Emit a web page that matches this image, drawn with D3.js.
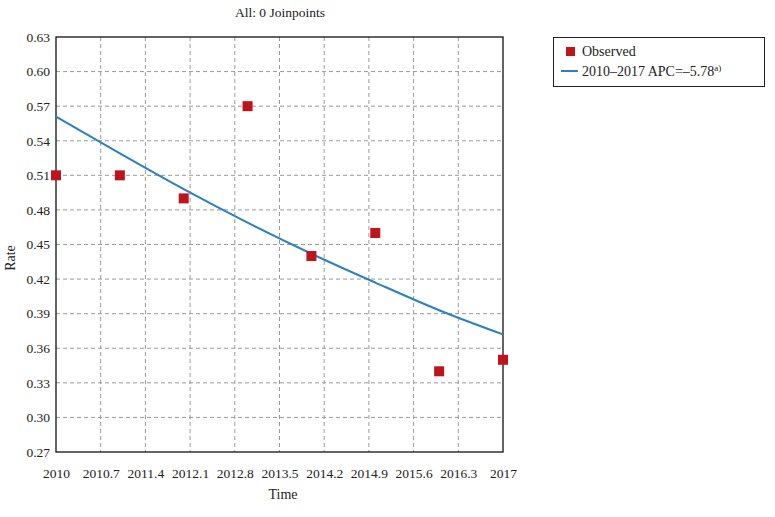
<!DOCTYPE html>
<html><head><meta charset="utf-8">
<script src="https://cdn.jsdelivr.net/npm/d3@7"></script>
<style>body{margin:0;background:#fff}svg{display:block}text{font-family:"Liberation Serif","DejaVu Serif",serif;fill:#222}</style>
</head><body>
<script>
const years = [2010, 2011, 2012, 2013, 2014, 2015, 2016, 2017];
const observed = [0.51, 0.51, 0.49, 0.57, 0.44, 0.46, 0.34, 0.35];
const fitted = [0.561, 0.529, 0.498, 0.469, 0.442, 0.417, 0.393, 0.372];
const xTicks = [2010, 2010.7, 2011.4, 2012.1, 2012.8, 2013.5, 2014.2, 2014.9, 2015.6, 2016.3, 2017];
const yTicks = [0.27, 0.30, 0.33, 0.36, 0.39, 0.42, 0.45, 0.48, 0.51, 0.54, 0.57, 0.60, 0.63];

const W = 775, H = 517;
const m = {left: 56, right: 503, top: 37, bottom: 452};
const svg = d3.select("body").append("svg").attr("width", W).attr("height", H);
const x = d3.scaleLinear().domain([2010, 2017]).range([m.left, m.right]);
const y = d3.scaleLinear().domain([0.27, 0.63]).range([m.bottom, m.top]);

// grid
svg.append("g").selectAll("line").data(xTicks.slice(1, -1)).join("line")
  .attr("x1", d => x(d)).attr("x2", d => x(d)).attr("y1", m.top).attr("y2", m.bottom)
  .attr("stroke", "#9a9a9a").attr("stroke-dasharray", "4,3").attr("stroke-width", 1);
svg.append("g").selectAll("line").data(yTicks.slice(1, -1)).join("line")
  .attr("y1", d => y(d)).attr("y2", d => y(d)).attr("x1", m.left).attr("x2", m.right)
  .attr("stroke", "#9a9a9a").attr("stroke-dasharray", "4,3").attr("stroke-width", 1);

// axes
const xAxis = svg.append("g").attr("transform", `translate(0,${m.bottom})`)
  .call(d3.axisBottom(x).tickValues(xTicks).tickSize(0).tickPadding(16).tickFormat(d => d3.format("")(+d.toFixed(1))));
const yAxis = svg.append("g").attr("transform", `translate(${m.left},0)`)
  .call(d3.axisLeft(y).tickValues(yTicks).tickSize(0).tickPadding(6).tickFormat(d3.format(".2f")));
[xAxis, yAxis].forEach(g => { g.select(".domain").remove(); g.selectAll("text").style("font-size", "13.5px").style("font-family", '"Liberation Serif",serif').attr("fill", "#222"); });

// frame
svg.append("rect").attr("x", m.left).attr("y", m.top).attr("width", m.right - m.left).attr("height", m.bottom - m.top)
  .attr("fill", "none").attr("stroke", "#111").attr("stroke-width", 1.3);

// fitted line
const pts = years.map((yr, i) => [yr, fitted[i]]);
svg.append("path").datum(pts)
  .attr("d", d3.line().x(d => x(d[0])).y(d => y(d[1])).curve(d3.curveMonotoneX))
  .attr("fill", "none").attr("stroke", "#2b7fc6").attr("stroke-width", 2);

// observed
const s = 10;
svg.append("g").selectAll("rect").data(years.map((yr, i) => [yr, observed[i]])).join("rect")
  .attr("x", d => x(d[0]) - s / 2).attr("y", d => y(d[1]) - s / 2).attr("width", s).attr("height", s)
  .attr("fill", "#c0141c");

// titles
svg.append("text").attr("x", 280).attr("y", 17).attr("text-anchor", "middle").style("font-size", "13.5px").text("All: 0 Joinpoints");
svg.append("text").attr("x", 283).attr("y", 499).attr("text-anchor", "middle").style("font-size", "14px").text("Time");
svg.append("text").attr("transform", "translate(15,258) rotate(-90)").attr("text-anchor", "middle").style("font-size", "14px").text("Rate");

// legend
const lg = svg.append("g");
lg.append("rect").attr("x", 553.5).attr("y", 37.5).attr("width", 211).attr("height", 49).attr("fill", "#fff").attr("stroke", "#222").attr("stroke-width", 1);
lg.append("rect").attr("x", 566).attr("y", 47).attr("width", 9).attr("height", 9).attr("fill", "#c0141c");
lg.append("text").attr("x", 582).attr("y", 56).style("font-size", "14px").text("Observed");
lg.append("line").attr("x1", 561).attr("x2", 578).attr("y1", 71).attr("y2", 71).attr("stroke", "#2b7fc6").attr("stroke-width", 2);
const t = lg.append("text").attr("x", 582).attr("y", 76).style("font-size", "14px");
t.append("tspan").text("2010–2017 APC=–5.78");
t.append("tspan").attr("dy", -5).style("font-size", "9px").text("a)");
</script>
</body></html>
